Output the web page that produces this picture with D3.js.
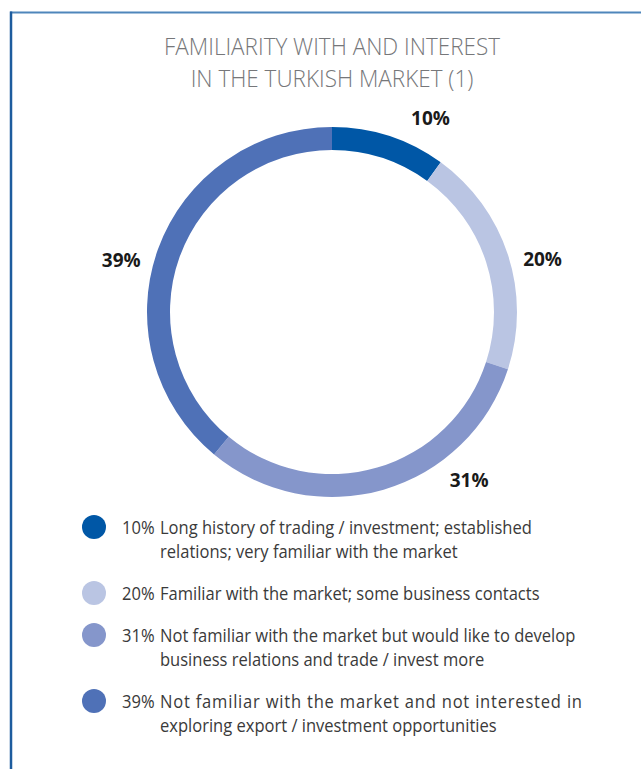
<!DOCTYPE html>
<html>
<head>
<meta charset="utf-8">
<script src="https://cdn.jsdelivr.net/npm/d3@7"></script>
<style>
  body { margin: 0; background: #fff; }
  svg { display: block; }
</style>
</head>
<body>
<script>
// data
const titleLines = ["FAMILIARITY WITH AND INTEREST", "IN THE TURKISH MARKET (1)"];
const shares = [10, 20, 31, 39];
const colors = ["#0057a6", "#bac5e3", "#8596cb", "#4f71b7"];
const legendText = [
    ["Long history of trading / investment; established", "relations; very familiar with the market"],
    ["Familiar with the market; some business contacts"],
    ["Not familiar with the market but would like to develop", "business relations and trade / invest more"],
    ["Not familiar with the market and not interested in", "exploring export / investment opportunities"]
];
// hand-placed label nudges in the original (degrees)
const labelNudge = [9, 4, -23, -6];

const width = 641, height = 769;
const cx = 332, cy = 312;

const svg = d3.select("body").append("svg")
    .attr("width", width)
    .attr("height", height);

// frame: top and left rule
svg.append("line")
    .attr("x1", 10).attr("x2", width)
    .attr("y1", 12.5).attr("y2", 12.5)
    .attr("stroke", "#4f86bb").attr("stroke-width", 2);
svg.append("line")
    .attr("x1", 11).attr("x2", 11)
    .attr("y1", 11.5).attr("y2", height)
    .attr("stroke", "#1d5c9e").attr("stroke-width", 2.5);

// title, squeezed to the condensed look of the original
const title = svg.append("g").attr("font-family", "'Open Sans', sans-serif")
    .attr("font-weight", 300)
    .attr("font-size", 24)
    .attr("fill", "#76777a");
const titleText = title.selectAll("text")
    .data(titleLines)
    .enter().append("text")
    .attr("text-anchor", "middle")
    .text(d => d);
const titleSx = 336 / titleText.nodes()[0].getComputedTextLength();
titleText.attr("transform", (d, i) => `translate(${cx},${55 + i * 32}) scale(${titleSx},1)`);

// ring
const pie = d3.pie().sort(null).value(d => d);
const arcs = pie(shares);
const arc = d3.arc().innerRadius(162).outerRadius(185);

const ring = svg.append("g").attr("transform", `translate(${cx},${cy})`);
ring.selectAll("path")
    .data(arcs)
    .enter().append("path")
    .attr("d", arc)
    .attr("fill", (d, i) => colors[i]);

const labelArc = d3.arc().innerRadius(217).outerRadius(217);
ring.selectAll("text")
    .data(arcs)
    .enter().append("text")
    .attr("transform", (d, i) => {
        const mid = (d.startAngle + d.endAngle) / 2 + labelNudge[i] * Math.PI / 180;
        const [x, y] = labelArc.centroid({startAngle: mid, endAngle: mid});
        return `translate(${x},${y})`;
    })
    .attr("text-anchor", "middle")
    .attr("dy", "0.36em")
    .attr("font-family", "'Open Sans', sans-serif")
    .attr("font-weight", 700)
    .attr("font-size", 19)
    .attr("fill", "#1a1a1a")
    .text(d => d.data + "%");

// legend
const legend = svg.append("g")
    .attr("font-family", "'Open Sans', sans-serif")
    .attr("font-size", 18)
    .attr("fill", "#3a3a3a");

const lineH = 24, rowGap = 42;
const rows = [];
legendText.forEach((lines, i) => {
    const prev = rows[i - 1];
    const y = prev ? prev.y + (prev.lines.length - 1) * lineH + rowGap : 527;
    rows.push({i, lines, y});
});

const row = legend.selectAll("g")
    .data(rows)
    .enter().append("g");

row.append("circle")
    .attr("cx", 94)
    .attr("cy", d => d.y)
    .attr("r", 12)
    .attr("fill", d => colors[d.i]);

const pct = row.append("text")
    .attr("class", "pct")
    .text(d => shares[d.i] + "%");

const desc = row.selectAll("text.desc")
    .data(d => d.lines.map((t, j) => ({t, j, y: d.y, i: d.i})))
    .enter().append("text")
    .attr("class", "desc")
    .text(d => d.t);

// squeeze factor so the single-line row ends where the original does
const probe = desc.filter(d => d.i === 1).node();
const sx = (540 - 160) / probe.getComputedTextLength();

pct.attr("transform", d => `translate(122,${d.y + 6.5}) scale(${sx},1)`);
desc.attr("transform", d => `translate(160,${d.y + 6.5 + d.j * lineH}) scale(${sx},1)`);
// last row's first line is justified in the original
desc.filter(d => d.i === 3 && d.j === 0)
    .attr("textLength", (582 - 160) / sx)
    .attr("lengthAdjust", "spacing");
</script>
</body>
</html>
